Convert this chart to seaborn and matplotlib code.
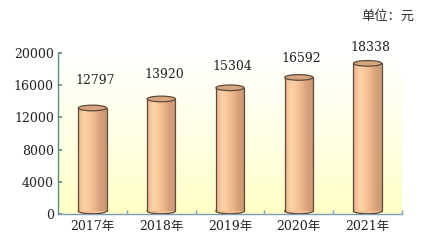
import numpy as np
import pandas as pd
import matplotlib
matplotlib.use("Agg")
import matplotlib.pyplot as plt
import matplotlib.transforms as mtransforms
from matplotlib.patches import Rectangle, Ellipse
from matplotlib.colors import LinearSegmentedColormap
import seaborn as sns

# ---- data ----
years = ["2017年", "2018年", "2019年", "2020年", "2021年"]
values = [12797, 13920, 15304, 16592, 18338]
yticks = [0, 4000, 8000, 12000, 16000, 20000]
unit_text = "单位：元"

sns.set_theme(style="white")
plt.rcParams["font.family"] = ["DejaVu Serif", "Noto Sans CJK SC"]

df = pd.DataFrame({"year": years, "value": values})

fig = plt.figure(figsize=(4.23, 2.44), dpi=100)
ax = fig.add_axes([58 / 423, 30 / 244, 344 / 423, 161 / 244])

# background gradient (white top -> light yellow bottom)
bg_cmap = LinearSegmentedColormap.from_list("bg", ["#FFFFC6", "#FFFFE6", "#FFFFFF"])
grad = np.linspace(0, 1, 256).reshape(-1, 1)
ax.imshow(grad, extent=[0, 1, 0, 1], transform=ax.transAxes, cmap=bg_cmap,
          aspect="auto", origin="lower", zorder=0)

sns.barplot(data=df, x="year", y="value", width=0.41, ax=ax, zorder=2,
            color="#F5C090", edgecolor="none")

ax.set_xlim(-0.5, 4.5)
ax.set_ylim(0, 20000)

# cylinder rendering over seaborn bars
shift = mtransforms.offset_copy(ax.transData, fig=fig, x=0, y=3, units="dots")
body_cmap = LinearSegmentedColormap.from_list(
    "body", ["#EDB489", "#FBD2AA", "#F8C899", "#EBB68B", "#D6A17A", "#CC9872"])
edge = "#5B4A3E"
ell_h = 700
for p in list(ax.patches):
    x0 = p.get_x()
    w = p.get_width()
    h = p.get_height()
    p.set_visible(False)
    n = 28
    for i in range(n):
        c = body_cmap(i / (n - 1))
        ax.add_patch(Rectangle((x0 + w * i / n, 0), w / n * 1.05, h,
                               facecolor=c, edgecolor="none",
                               transform=shift, zorder=3))
    # bottom ellipse
    ax.add_patch(Ellipse((x0 + w / 2, 0), w, ell_h, facecolor=body_cmap(0.5),
                         edgecolor=edge, lw=0.9, transform=shift, zorder=2.9))
    # sides
    ax.plot([x0, x0], [0, h], color=edge, lw=0.9, transform=shift, zorder=4)
    ax.plot([x0 + w, x0 + w], [0, h], color=edge, lw=0.9, transform=shift, zorder=4)
    # top ellipse
    ax.add_patch(Ellipse((x0 + w / 2, h), w, ell_h, facecolor="#D9A57C",
                         edgecolor=edge, lw=0.9, transform=shift, zorder=5))

# value labels
for i, v in enumerate(values):
    ax.text(i + 0.04, v + 3750 - 350 * i, f"{v}", ha="center", va="center",
            fontsize=9, color="#222222", zorder=6)

# axes styling
for s in ["top", "right"]:
    ax.spines[s].set_visible(False)
ax.spines["left"].set_color("#5E8C7E")
ax.spines["bottom"].set_color("#7C9CBC")
ax.spines["left"].set_linewidth(1.0)
ax.spines["bottom"].set_linewidth(1.0)
ax.set_yticks(yticks)
ax.set_yticklabels([str(t) for t in yticks])
ax.tick_params(axis="y", direction="in", length=3, color="#5E8C7E",
               labelsize=9, labelcolor="#222222", pad=3, left=True)
ax.set_xticks(range(len(years)))
ax.set_xticklabels(years)
ax.tick_params(axis="x", length=0, labelsize=9, labelcolor="#222222", pad=4)
ax.set_xticks([0.5, 1.5, 2.5, 3.5, 4.5], minor=True)
ax.tick_params(axis="x", which="minor", direction="in", length=3,
               color="#7C9CBC", bottom=True)
ax.set_xlabel("")
ax.set_ylabel("")
ax.grid(False)

fig.text(388 / 423, 1 - 16 / 244, unit_text, ha="center", va="center",
         fontsize=9.5, color="#333333", family=["Noto Sans CJK SC"])

fig.savefig("out.png", dpi=100, facecolor="white")
